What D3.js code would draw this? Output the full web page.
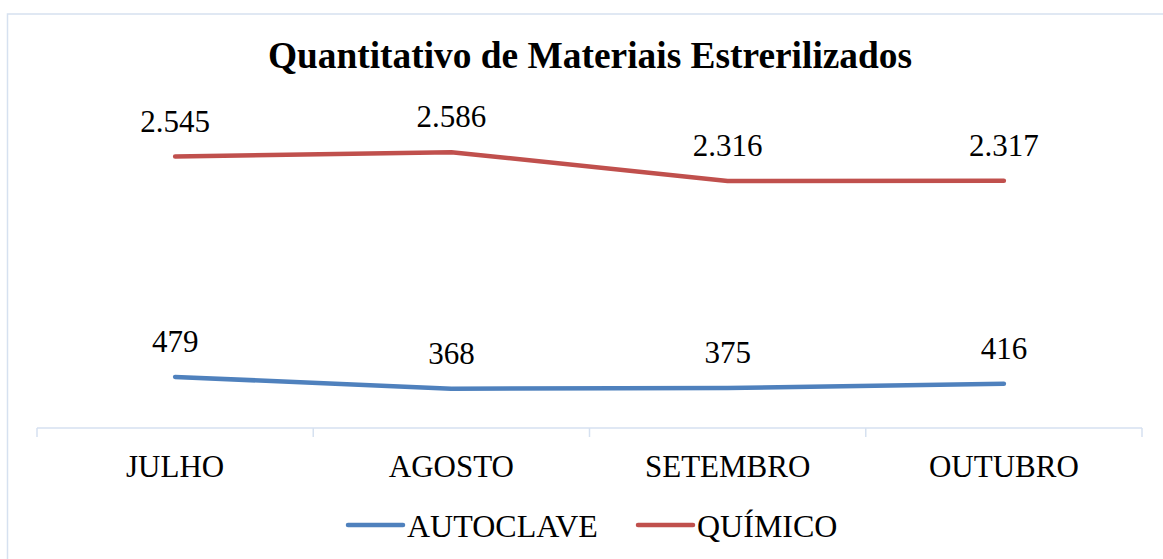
<!DOCTYPE html>
<html lang="pt">
<head>
    <meta charset="UTF-8">
    <script src="https://d3js.org/d3.v7.min.js"></script>
    <title>Quantitativo de Materiais Estrerilizados</title>
    <style>
        body { margin: 0; background: #fff; }
        text { font-family: 'Liberation Serif', 'Times New Roman', serif; fill: #000; }
        text.title { font-size: 37.4px; font-weight: bold; text-anchor: middle; }
        text.label { font-size: 31px; text-anchor: middle; }
        text.legend { font-size: 32px; }
        .x-axis line { stroke: #d6e1f0; stroke-width: 1.5px; }
        .x-axis text { font-size: 31px; font-family: 'Liberation Serif', 'Times New Roman', serif; fill: #000; }
    </style>
</head>
<body>
<svg height="559" width="1163"></svg>
<script>
    const width = 1163, height = 559;
    const months = ["JULHO", "AGOSTO", "SETEMBRO", "OUTUBRO"];
    const autoclave = [479, 368, 375, 416];
    const quimico = [2545, 2586, 2316, 2317];
    const seriesNames = ["AUTOCLAVE", "QUÍMICO"];
    const colors = ["#4f81bd", "#c0504d"];

    const x = d3.scaleBand().domain(months).range([37, 1142]);
    const y = d3.scaleLinear().domain([0, 3000]).range([428, 108]);
    const fmt = d => d3.format(",")(d).replace(/,/g, ".");

    const svg = d3.select("svg");

    // frame
    svg.append("rect")
        .attr("x", 7.5).attr("y", 14)
        .attr("width", 1170).attr("height", 560)
        .attr("fill", "none").attr("stroke", "#d6e1f0").attr("stroke-width", 1.5);

    svg.append("text").attr("class", "title")
        .attr("x", 590).attr("y", 68)
        .text("Quantitativo de Materiais Estrerilizados");

    // category axis, ticks sit between the bands
    const axis = d3.axisBottom(x).tickSize(0).tickPadding(27);
    const gx = svg.append("g").attr("class", "x-axis")
        .attr("transform", "translate(0,428)")
        .call(axis);
    gx.select(".domain").remove();
    gx.append("line").attr("x1", 37).attr("x2", 1142).attr("y1", 0).attr("y2", 0);
    gx.selectAll("line.sep").data(d3.range(months.length + 1)).enter().append("line")
        .attr("class", "sep")
        .attr("x1", i => 37 + i * x.step()).attr("x2", i => 37 + i * x.step())
        .attr("y1", 0).attr("y2", 9);

    const line = d3.line()
        .x((d, i) => x(months[i]) + x.bandwidth() / 2)
        .y(d => y(d));

    [autoclave, quimico].forEach((data, k) => {
        svg.append("path").datum(data)
            .attr("d", line)
            .attr("fill", "none")
            .attr("stroke", colors[k])
            .attr("stroke-width", 4.5)
            .attr("stroke-linejoin", "round")
            .attr("stroke-linecap", "round");
        svg.selectAll(null).data(data).enter().append("text")
            .attr("class", "label")
            .attr("x", (d, i) => x(months[i]) + x.bandwidth() / 2)
            .attr("y", d => y(d) - 25)
            .text(fmt);
    });

    // legend
    const legendX = [348, 638];
    seriesNames.forEach((name, k) => {
        const g = svg.append("g").attr("transform", `translate(${legendX[k]},525)`);
        g.append("line").attr("x1", 0).attr("x2", 55).attr("y1", 0).attr("y2", 0)
            .attr("stroke", colors[k]).attr("stroke-width", 4.5).attr("stroke-linecap", "round");
        g.append("text").attr("class", "legend").attr("x", 59).attr("y", 12).text(name);
    });
</script>
</body>
</html>
